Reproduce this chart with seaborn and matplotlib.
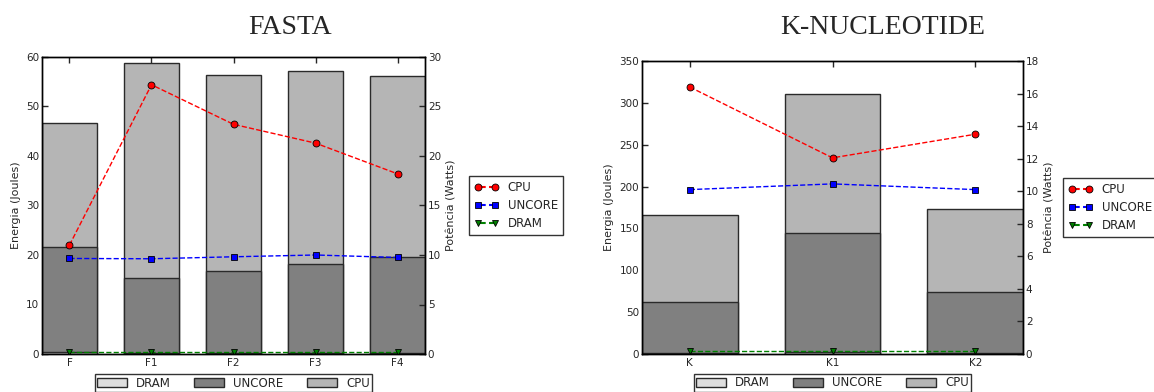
import numpy as np
import pandas as pd
import matplotlib
matplotlib.use("Agg")
import matplotlib.pyplot as plt
import seaborn as sns
from matplotlib.patches import Patch
from matplotlib.lines import Line2D

# ---------------- data ----------------
fasta_labels = ["F", "F1", "F2", "F3", "F4"]
fasta_dram_j = [0.4, 0.3, 0.3, 0.3, 0.3]
fasta_uncore_j = [21.3, 15.0, 16.4, 17.9, 19.3]
fasta_cpu_j = [24.9, 43.5, 39.7, 38.9, 36.6]
fasta_cpu_w = [11.0, 27.2, 23.2, 21.3, 18.2]
fasta_uncore_w = [9.65, 9.62, 9.82, 10.0, 9.75]
fasta_dram_w = [0.2, 0.2, 0.2, 0.2, 0.2]

knuc_labels = ["K", "K1", "K2"]
knuc_dram_j = [1.5, 2.5, 1.5]
knuc_uncore_j = [61.0, 142.0, 72.0]
knuc_cpu_j = [103.0, 166.5, 99.5]
knuc_cpu_w = [16.4, 12.05, 13.5]
knuc_uncore_w = [10.1, 10.45, 10.1]
knuc_dram_w = [0.2, 0.2, 0.2]

# ---------------- style ----------------
sns.set_style("white")
plt.rcParams.update({
    "font.family": ["DejaVu Sans"],
    "xtick.direction": "in",
    "ytick.direction": "in",
    "xtick.labelsize": 7.5,
    "ytick.labelsize": 7.5,
    "axes.edgecolor": "black",
    "axes.linewidth": 1.0,
})

C_DRAM = "#dedede"
C_UNC = "#808080"
C_CPU = "#b5b5b5"
EDGE = "#2a2a2a"

W, H = 1154, 392
fig = plt.figure(figsize=(W / 100, H / 100), dpi=100)


def panel(rect, title, title_x, labels, dram_j, unc_j, cpu_j, cpu_w, unc_w, dram_w,
          ylim1, yticks1, ylim2, yticks2, leg_x):
    ax = fig.add_axes(rect)
    n = len(labels)
    dram = np.array(dram_j)
    unc = dram + np.array(unc_j)
    tot = unc + np.array(cpu_j)
    df = pd.DataFrame({"x": labels, "dram": dram, "unc": unc, "tot": tot})
    for col, c in (("tot", C_CPU), ("unc", C_UNC), ("dram", C_DRAM)):
        sns.barplot(data=df, x="x", y=col, color=c, saturation=1, width=0.67,
                    edgecolor=EDGE, linewidth=1.0, ax=ax, errorbar=None)
    ax.set_xlim(-0.335, n - 1 + 0.335)
    ax.set_ylim(*ylim1)
    ax.set_yticks(yticks1)
    ax.set_xlabel("")
    ax.set_ylabel("Energia (Joules)", fontsize=8)
    ax.tick_params(axis="x", top=True, bottom=True, length=4, width=1, pad=3)
    ax.tick_params(axis="y", left=True, right=False, length=4, width=1, pad=2)

    ax2 = ax.twinx()
    xs = np.arange(n)
    ax2.plot(xs, cpu_w, "--", color="red", marker="o", markersize=5,
             markeredgecolor="black", markeredgewidth=0.6, linewidth=1)
    ax2.plot(xs, unc_w, "--", color="blue", marker="s", markersize=5,
             markeredgecolor="black", markeredgewidth=0.6, linewidth=1)
    ax2.plot(xs, dram_w, "--", color="green", marker="v", markersize=5,
             markeredgecolor="black", markeredgewidth=0.6, linewidth=1)
    ax2.set_ylim(*ylim2)
    ax2.set_yticks(yticks2)
    ax2.set_ylabel("Potência (Watts)", fontsize=8)
    ax2.tick_params(axis="y", right=True, length=4, width=1, pad=2)
    ax2.set_xlim(-0.335, n - 1 + 0.335)

    handles = [Line2D([], [], color="red", ls="--", marker="o", ms=5, mec="black", mew=0.6),
               Line2D([], [], color="blue", ls="--", marker="s", ms=5, mec="black", mew=0.6),
               Line2D([], [], color="green", ls="--", marker="v", ms=5, mec="black", mew=0.6)]
    lg = ax2.legend(handles, ["CPU", "UNCORE", "DRAM"], loc="center left",
                    bbox_to_anchor=(leg_x, 0.5), fontsize=8.5, numpoints=2,
                    frameon=True, fancybox=False, edgecolor="black",
                    handlelength=2.0, borderpad=0.45, labelspacing=0.4)
    lg.get_frame().set_linewidth(1.0)

    bh = [Patch(facecolor=C_DRAM, edgecolor=EDGE),
          Patch(facecolor=C_UNC, edgecolor=EDGE),
          Patch(facecolor=C_CPU, edgecolor=EDGE)]
    lb = ax.legend(bh, ["DRAM", "UNCORE", "CPU"], loc="upper center",
                   bbox_to_anchor=(0.5, -0.068), ncol=3, fontsize=8.5,
                   frameon=True, fancybox=False, edgecolor="black",
                   handlelength=2.5, handleheight=0.8, columnspacing=2.0,
                   borderpad=0.2, borderaxespad=0.0)
    lb.get_frame().set_linewidth(1.0)

    fig.text(title_x, 1 - 27 / H, title, ha="center", va="center",
             family="Liberation Serif", fontsize=20)


panel([42 / W, 1 - 354 / H, (425 - 42) / W, (354 - 57) / H], "FASTA", 290 / W,
      fasta_labels, fasta_dram_j, fasta_uncore_j, fasta_cpu_j,
      fasta_cpu_w, fasta_uncore_w, fasta_dram_w,
      (0, 60), np.arange(0, 61, 10), (0, 30), np.arange(0, 31, 5), 1.10)

panel([642 / W, 1 - 354 / H, (1023 - 642) / W, (354 - 61) / H], "K-NUCLEOTIDE", 883 / W,
      knuc_labels, knuc_dram_j, knuc_uncore_j, knuc_cpu_j,
      knuc_cpu_w, knuc_uncore_w, knuc_dram_w,
      (0, 350), np.arange(0, 351, 50), (0, 18), np.arange(0, 19, 2), 1.09)

fig.savefig("out.png", dpi=100)
